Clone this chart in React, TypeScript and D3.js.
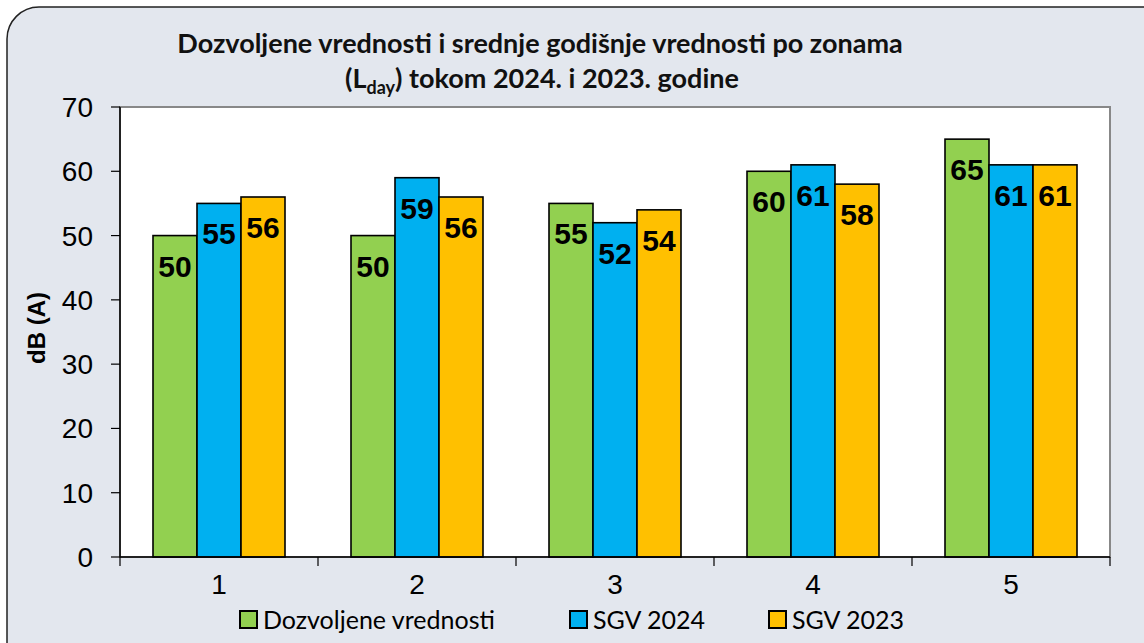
import * as d3 from 'd3';

const zones = ['1', '2', '3', '4', '5'];
const seriesNames = ['Dozvoljene vrednosti', 'SGV 2024', 'SGV 2023'];
const allowed = [50, 50, 55, 60, 65];
const sgv2024 = [55, 59, 52, 61, 61];
const sgv2023 = [56, 56, 54, 58, 61];
const colors = ['#92D050', '#00B0F0', '#FFC000'];
const yTicks = [0, 10, 20, 30, 40, 50, 60, 70];

const W = 1144;
const H = 643;
const plot = { left: 120, top: 107, right: 1110, bottom: 557 };

export default function App() {
    const series = [allowed, sgv2024, sgv2023];
    const x0 = d3.scaleBand().domain(zones).range([plot.left, plot.right]).paddingInner(0).paddingOuter(0);
    const x1 = d3
        .scaleBand()
        .domain(seriesNames)
        .range([0, x0.bandwidth()])
        .paddingOuter(0.75)
        .paddingInner(0);
    const y = d3.scaleLinear().domain([0, 70]).range([plot.bottom, plot.top]);
    const boundaries = zones.map((z) => x0(z) as number).concat(plot.right);

    const legendX = [239, 569, 768];

    return (
        <svg width={W} height={H} style={{ position: 'absolute', left: 0, top: 0 }}>
            <rect x={7} y={7} width={1170} height={700} rx={32} fill="#E3E7EE" stroke="#222" strokeWidth={1.5} />
            <text x={540} y={53} textAnchor="middle" fontFamily="Lato" fontWeight="bold" fontSize={27} fill="#111">
                Dozvoljene vrednosti i srednje godišnje vrednosti po zonama
            </text>
            <text x={542} y={88} textAnchor="middle" fontFamily="Lato" fontWeight="bold" fontSize={27} fill="#111">
                (L
                <tspan fontSize={18} dy={6}>day</tspan>
                <tspan dy={-6}>) tokom 2024. i 2023. godine</tspan>
            </text>

            <rect
                x={plot.left}
                y={plot.top}
                width={plot.right - plot.left}
                height={plot.bottom - plot.top}
                fill="#fff"
                stroke="#888"
                strokeWidth={2}
            />

            {series.map((vals, si) =>
                vals.map((v, i) => {
                    const bx = (x0(zones[i]) as number) + (x1(seriesNames[si]) as number);
                    const bw = x1.bandwidth();
                    return (
                        <g key={si + '-' + i}>
                            <rect
                                x={bx}
                                y={y(v)}
                                width={bw}
                                height={plot.bottom - y(v)}
                                fill={colors[si]}
                                stroke="#000"
                                strokeWidth={1.6}
                            />
                            <text
                                x={bx + bw / 2}
                                y={y(v) + 41}
                                textAnchor="middle"
                                fontFamily="Liberation Sans, Arial"
                                fontWeight="bold"
                                fontSize={30}
                                fill="#000"
                            >
                                {v}
                            </text>
                        </g>
                    );
                })
            )}

            {/* y axis */}
            <line x1={plot.left} x2={plot.left} y1={plot.top} y2={plot.bottom} stroke="#000" strokeWidth={1.5} />
            {yTicks.map((t) => (
                <g key={t}>
                    <line x1={plot.left - 9} x2={plot.left} y1={y(t)} y2={y(t)} stroke="#000" strokeWidth={1.2} />
                    <text
                        x={93}
                        y={y(t) + 10}
                        textAnchor="end"
                        fontFamily="Liberation Sans, Arial"
                        fontSize={28}
                        fill="#000"
                    >
                        {t}
                    </text>
                </g>
            ))}
            <text
                transform={`translate(45,${(plot.top + plot.bottom) / 2 - 4}) rotate(-90)`}
                textAnchor="middle"
                fontFamily="Liberation Sans, Arial"
                fontWeight="bold"
                fontSize={24}
                fill="#000"
            >
                dB (A)
            </text>

            {/* x axis */}
            <line x1={plot.left} x2={plot.right} y1={plot.bottom} y2={plot.bottom} stroke="#000" strokeWidth={1.5} />
            {boundaries.map((b, i) => (
                <line key={i} x1={b} x2={b} y1={plot.bottom} y2={plot.bottom + 9} stroke="#000" strokeWidth={1.2} />
            ))}
            {zones.map((z) => (
                <text
                    key={z}
                    x={(x0(z) as number) + x0.bandwidth() / 2}
                    y={594}
                    textAnchor="middle"
                    fontFamily="Liberation Sans, Arial"
                    fontSize={28}
                    fill="#000"
                >
                    {z}
                </text>
            ))}

            {/* legend */}
            {seriesNames.map((n, i) => (
                <g key={n}>
                    <rect x={legendX[i] + 1} y={611} width={17} height={17} fill={colors[i]} stroke="#000" strokeWidth={2} />
                    <text x={legendX[i] + 24} y={629} fontFamily="Lato" fontSize={25} fill="#000">
                        {n}
                    </text>
                </g>
            ))}
        </svg>
    );
}
